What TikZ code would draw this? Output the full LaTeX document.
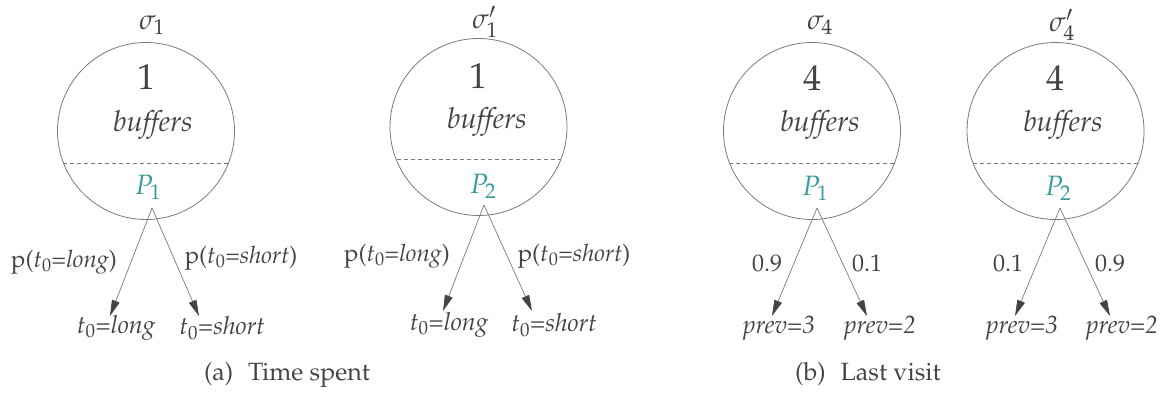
\documentclass[tikz,border=0pt]{standalone}
\usepackage[T1]{fontenc}
\usepackage{mathpazo}
\usetikzlibrary{arrows.meta}
\definecolor{txt}{HTML}{444444}
\definecolor{procc}{HTML}{3A9A9A}
\definecolor{ln}{HTML}{7A7A7A}
\begin{document}
\begin{tikzpicture}[x=1pt,y=-1pt,
  state/.style={circle,draw=ln,line width=0.8pt,minimum size=177pt,inner sep=0pt},
  ttl/.style={text=txt,font=\fontsize{28}{32}\selectfont,inner sep=0pt},
  num/.style={text=txt,font=\fontsize{36}{40}\selectfont,inner sep=0pt},
  buf/.style={text=txt,font=\fontsize{29}{32}\selectfont\itshape,inner sep=0pt},
  proc/.style={text=procc,font=\fontsize{28}{32}\selectfont,inner sep=0pt},
  lbl/.style={text=txt,font=\fontsize{24}{28}\selectfont,inner sep=0pt},
  leaf/.style={text=txt,font=\fontsize{25}{28}\selectfont,inner sep=0pt},
  captxt/.style={text=txt,font=\fontsize{25}{30}\selectfont,inner sep=0pt},
  divider/.style={draw=ln,line width=0.8pt,dash pattern=on 4pt off 3pt},
  edge/.style={draw=ln,line width=0.7pt,-{Triangle[length=16pt,width=8pt,color=txt]}},
]
\useasboundingbox (0,0) rectangle (1174,394);

% ---------- sigma_1 ----------
\node[state] (c1) at (146,131) {};
\node[ttl] (s1) at (152,25) {$\sigma_1$};
\node[num] (n1) at (146,77) {1};
\node[buf] (b1) at (153,125) {buffers};
\draw[divider] (c1.center) ++(-83,32) -- ++(166,0);
\node[proc] (p1) at (148,187) {$P_1$};
\coordinate (a1) at (152,208);
\coordinate (e1l) at (110,316);
\coordinate (e1r) at (199,316);
\draw[edge] (a1) -- (e1l);
\draw[edge] (a1) -- (e1r);
\node[lbl] (q1l) at (64,262) {p($t_0$=\textit{long})};
\node[lbl] (q1r) at (241,258) {p($t_0$=\textit{short})};
\node[leaf] (l1l) at (116,328) {$t_0$=\textit{long}};
\node[leaf] (l1r) at (222,328) {$t_0$=\textit{short}};

% ---------- sigma'_1 ----------
\node[state] (c2) at (478.5,127) {};
\node[ttl] (s2) at (485,22) {$\sigma_1'$};
\node[num] (n2) at (478,76) {1};
\node[buf] (b2) at (487,122) {buffers};
\draw[divider] (c2.center) ++(-82,32) -- ++(164,0);
\node[proc] (p2) at (483,186) {$P_2$};
\coordinate (a2) at (484,205);
\coordinate (e2l) at (443,311);
\coordinate (e2r) at (532,311);
\draw[edge] (a2) -- (e2l);
\draw[edge] (a2) -- (e2r);
\node[lbl] (q2l) at (397,256) {p($t_0$=\textit{long})};
\node[lbl] (q2r) at (574,256) {p($t_0$=\textit{short})};
\node[leaf] (l2l) at (449,325) {$t_0$=\textit{long}};
\node[leaf] (l2r) at (554,325) {$t_0$=\textit{short}};

% ---------- sigma_4 ----------
\node[state] (c3) at (812,131) {};
\node[ttl] (s3) at (820,25) {$\sigma_4$};
\node[num] (n3) at (812,78) {4};
\node[buf] (b3) at (820,125) {buffers};
\draw[divider] (c3.center) ++(-83,32) -- ++(166,0);
\node[proc] (p3) at (815,188) {$P_1$};
\coordinate (a3) at (817,208);
\coordinate (e3l) at (772,316);
\coordinate (e3r) at (867,316);
\draw[edge] (a3) -- (e3l);
\draw[edge] (a3) -- (e3r);
\node[lbl] (q3l) at (767,263) {0.9};
\node[lbl] (q3r) at (867,263) {0.1};
\node[leaf] (l3l) at (779,328) {\textit{prev=3}};
\node[leaf] (l3r) at (880,328) {\textit{prev=2}};

% ---------- sigma'_4 ----------
\node[state] (c4) at (1055.5,131) {};
\node[ttl] (s4) at (1062,25) {$\sigma_4'$};
\node[num] (n4) at (1055,78) {4};
\node[buf] (b4) at (1063,125) {buffers};
\draw[divider] (c4.center) ++(-83,32) -- ++(166,0);
\node[proc] (p4) at (1058,188) {$P_2$};
\coordinate (a4) at (1060,208);
\coordinate (e4l) at (1015,316);
\coordinate (e4r) at (1110,316);
\draw[edge] (a4) -- (e4l);
\draw[edge] (a4) -- (e4r);
\node[lbl] (q4l) at (1008,263) {0.1};
\node[lbl] (q4r) at (1110,263) {0.9};
\node[leaf] (l4l) at (1022,328) {\textit{prev=3}};
\node[leaf] (l4r) at (1122,328) {\textit{prev=2}};

% ---------- captions ----------
\node[captxt] (capa) at (287,375) {(a)\hspace{0.6em}Time spent};
\node[captxt] (capb) at (868,374) {(b)\hspace{0.6em}Last visit};
\end{tikzpicture}
\end{document}
